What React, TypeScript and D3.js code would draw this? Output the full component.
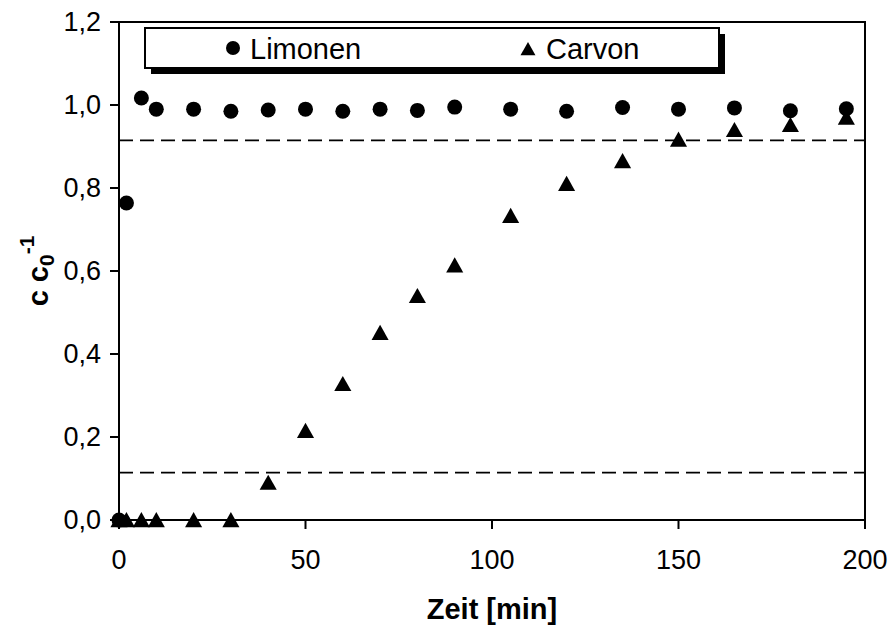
import * as d3 from "d3";

const FONT = "'Liberation Sans', Arial, sans-serif";
const WIDTH = 889;
const HEIGHT = 632;
const MARGIN = { top: 22, right: 24, bottom: 112, left: 119 };

// Zeit [min]
const timeLimonen = [0, 2, 6, 10, 20, 30, 40, 50, 60, 70, 80, 90, 105, 120, 135, 150, 165, 180, 195];
const limonen = [0, 0.764, 1.017, 0.99, 0.99, 0.985, 0.988, 0.99, 0.985, 0.99, 0.987, 0.995, 0.99, 0.985, 0.994, 0.99, 0.993, 0.986, 0.991];

const timeCarvon = [0, 2, 6, 10, 20, 30, 40, 50, 60, 70, 80, 90, 105, 120, 135, 150, 165, 180, 195];
const carvon = [0, 0, 0, 0, 0, 0, 0.09, 0.215, 0.328, 0.451, 0.54, 0.614, 0.733, 0.81, 0.865, 0.917, 0.94, 0.952, 0.97];

// reference lines (dashed)
const refLines = [0.114, 0.915];

const xTicks = [0, 50, 100, 150, 200];
const yTicks = [0, 0.2, 0.4, 0.6, 0.8, 1.0, 1.2];

const fmt = (v: number) => v.toFixed(1).replace(".", ",");

const triangle = (s: number) => `M0,${-s} L${s * 1.07},${s * 0.9} L${-s * 1.07},${s * 0.9} Z`;

export default function App() {
  const boundsWidth = WIDTH - MARGIN.left - MARGIN.right;
  const boundsHeight = HEIGHT - MARGIN.top - MARGIN.bottom;

  const x = d3.scaleLinear().domain([0, 200]).range([0, boundsWidth]);
  const y = d3.scaleLinear().domain([0, 1.2]).range([boundsHeight, 0]);

  return (
    <svg
      width={WIDTH}
      height={HEIGHT}
      style={{ position: "absolute", left: 0, top: 0, background: "#fff" }}
      fontFamily={FONT}
    >
      <g transform={`translate(${MARGIN.left},${MARGIN.top})`}>
        {/* frame */}
        <rect x={0} y={0} width={boundsWidth} height={boundsHeight} fill="none" stroke="#000" strokeWidth={2} />

        {/* dashed lines */}
        {refLines.map((v, i) => (
          <line key={i} x1={0} x2={boundsWidth} y1={y(v)} y2={y(v)} stroke="#000" strokeWidth={1.8} strokeDasharray="14 7" />
        ))}

        {/* y axis */}
        {yTicks.map((t, i) => (
          <g key={i} transform={`translate(0,${y(t)})`}>
            <line x1={-9} x2={0} stroke="#000" strokeWidth={2} />
            <text x={-18} dy="0.35em" textAnchor="end" fontSize={27}>
              {fmt(t)}
            </text>
          </g>
        ))}

        {/* x axis */}
        {xTicks.map((t, i) => (
          <g key={i} transform={`translate(${x(t)},${boundsHeight})`}>
            <line y1={0} y2={9} stroke="#000" strokeWidth={2} />
            <text y={49} textAnchor="middle" fontSize={27}>
              {t}
            </text>
          </g>
        ))}

        {/* hidden marker near origin */}
        <circle cx={x(1.6)} cy={y(0)} r={5} fill="#1a1a8c" />

        {/* Limonen */}
        {limonen.map((v, i) => (
          <circle key={i} cx={x(timeLimonen[i])} cy={y(v)} r={7.5} fill="#000" />
        ))}

        {/* Carvon */}
        {carvon.map((v, i) => (
          <path key={i} d={triangle(8)} transform={`translate(${x(timeCarvon[i])},${y(v)})`} fill="#000" />
        ))}

        {/* legend */}
        <g transform="translate(26,6)">
          <rect x={6} y={6} width={574} height={40} fill="#000" />
          <rect x={0} y={0} width={574} height={40} fill="#fff" stroke="#000" strokeWidth={2} />
          <circle cx={88} cy={20} r={7} fill="#000" />
          <text x={105} y={31} fontSize={29}>Limonen</text>
          <path d={triangle(7)} transform="translate(383,21)" fill="#000" />
          <text x={401} y={31} fontSize={29}>Carvon</text>
        </g>

        {/* axis titles */}
        <text x={boundsWidth / 2} y={boundsHeight + 99} textAnchor="middle" fontSize={29} fontWeight="bold">
          Zeit [min]
        </text>
        <text
          transform={`translate(${-71},${boundsHeight / 2}) rotate(-90)`}
          textAnchor="middle"
          fontSize={29}
          fontWeight="bold"
        >
          c c<tspan fontSize={21} dy={6}>0</tspan>
          <tspan fontSize={21} dy={-20}>-1</tspan>
        </text>
      </g>
    </svg>
  );
}
